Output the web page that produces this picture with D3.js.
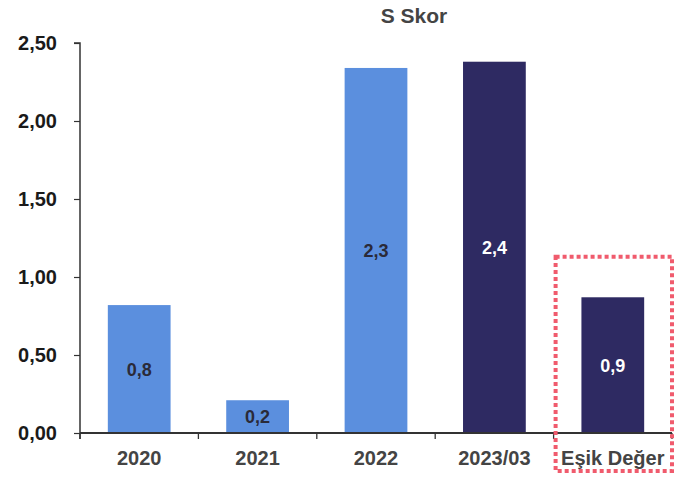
<!DOCTYPE html>
<html>
<head>
<meta charset="utf-8">
<script src="https://cdn.jsdelivr.net/npm/d3@7"></script>
<style>
  html, body { margin: 0; padding: 0; background: #ffffff; }
  svg { display: block; font-family: "Liberation Sans", Arial, sans-serif; }
</style>
</head>
<body>
<svg id="chart" width="686" height="479"></svg>
<script>
// S Skor by period, with the threshold value
const categories = ["2020", "2021", "2022", "2023/03", "Eşik Değer"];
const values = [0.82, 0.21, 2.34, 2.38, 0.87];
const barColors = ["#5b8fde", "#5b8fde", "#5b8fde", "#2e2a62", "#2e2a62"];
const labelColors = ["#2a2a38", "#2a2a38", "#2a2a38", "#ffffff", "#ffffff"];
const yTicks = [0, 0.5, 1.0, 1.5, 2.0, 2.5];
const title = "S Skor";

const svg = d3.select("#chart");
const margin = { left: 80, right: 14, top: 43, bottom: 46 };
const W = 686, H = 479;

const x = d3.scaleBand()
  .domain(categories)
  .range([margin.left, W - margin.right])
  .paddingInner(0.47)
  .paddingOuter(0.235);

const y = d3.scaleLinear()
  .domain([0, 2.5])
  .range([H - margin.bottom, margin.top]);

const fmt = v => d3.format(".2f")(v).replace(".", ",");
const fmtLabel = v => d3.format(".1f")(v).replace(".", ",");

// title
svg.append("text")
  .attr("x", 414)
  .attr("y", 23)
  .attr("text-anchor", "middle")
  .attr("font-size", 21)
  .attr("font-weight", "bold")
  .attr("fill", "#444")
  .text(title);

// bars
svg.selectAll("rect.bar")
  .data(values)
  .join("rect")
  .attr("class", "bar")
  .attr("x", (d, i) => x(categories[i]))
  .attr("width", x.bandwidth())
  .attr("y", d => y(d))
  .attr("height", d => y(0) - y(d))
  .attr("fill", (d, i) => barColors[i]);

// value labels in the middle of each bar
svg.selectAll("text.val")
  .data(values)
  .join("text")
  .attr("class", "val")
  .attr("x", (d, i) => x(categories[i]) + x.bandwidth() / 2)
  .attr("y", d => (y(d) + y(0)) / 2)
  .attr("dy", "0.38em")
  .attr("text-anchor", "middle")
  .attr("font-size", 18)
  .attr("font-weight", "bold")
  .attr("fill", (d, i) => labelColors[i])
  .text(d => fmtLabel(d));

// y axis
const yAxis = svg.append("g")
  .attr("transform", `translate(${margin.left},0)`)
  .call(d3.axisLeft(y).tickValues(yTicks).tickFormat(fmt).tickSize(6).tickPadding(17));
yAxis.select(".domain").attr("stroke", "#333").attr("stroke-width", 1.5)
  .attr("d", `M-6,${y(2.5)}H0V${y(0) + 6}`);
yAxis.selectAll(".tick line").attr("stroke", "#333").attr("stroke-width", 1.2);
yAxis.selectAll(".tick text")
  .attr("font-size", 20)
  .attr("font-weight", "bold")
  .attr("fill", "#1a1a1a")
  .attr("font-family", "Liberation Sans, Arial, sans-serif");

// x axis: line with ticks at band boundaries
const step = x.step();
const x0 = margin.left, x1 = W - margin.right;
const xAxis = svg.append("g");
xAxis.append("line")
  .attr("x1", x0).attr("x2", x1)
  .attr("y1", y(0)).attr("y2", y(0))
  .attr("stroke", "#333").attr("stroke-width", 1.8);
xAxis.selectAll("line.tk")
  .data(d3.range(categories.length + 1))
  .join("line")
  .attr("class", "tk")
  .attr("x1", i => x0 + i * step).attr("x2", i => x0 + i * step)
  .attr("y1", y(0)).attr("y2", y(0) + 6)
  .attr("stroke", "#333").attr("stroke-width", 1.3);
xAxis.selectAll("text")
  .data(categories)
  .join("text")
  .attr("x", d => x(d) + x.bandwidth() / 2)
  .attr("y", y(0) + 32)
  .attr("text-anchor", "middle")
  .attr("font-size", 20)
  .attr("font-weight", "bold")
  .attr("fill", "#444")
  .text(d => d);

// dotted highlight around the threshold column
const last = categories[categories.length - 1];
const bandStart = x(last) - step * x.paddingInner() / 2;
svg.append("rect")
  .attr("x", bandStart + 2)
  .attr("y", y(1.13))
  .attr("width", step - 2)
  .attr("height", 471 - y(1.13))
  .attr("fill", "none")
  .attr("stroke", "#f05b6d")
  .attr("stroke-width", 4)
  .attr("stroke-dasharray", "4,3");
</script>
</body>
</html>
